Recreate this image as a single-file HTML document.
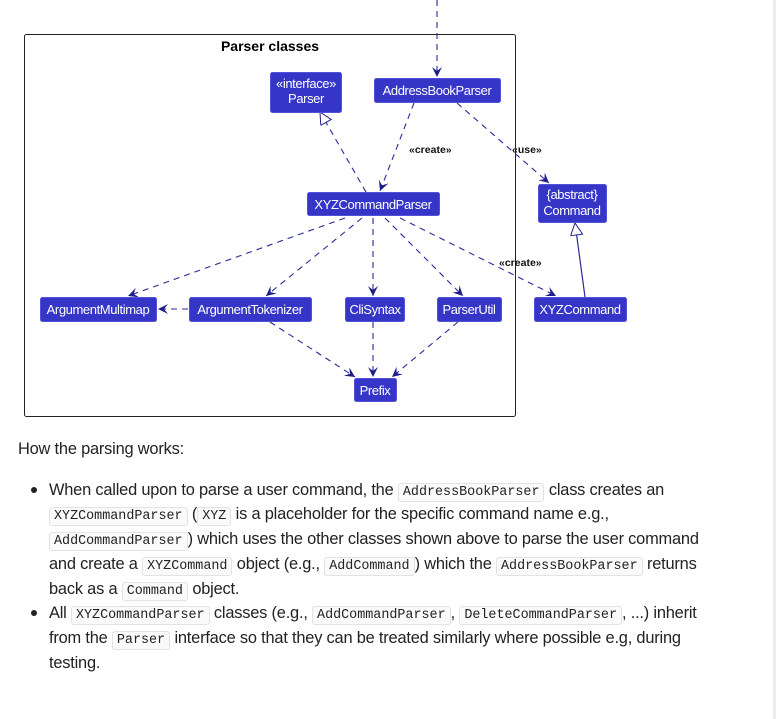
<!DOCTYPE html>
<html><head><style>
body{margin:0;width:776px;height:719px;background:#fff;overflow:hidden;position:relative;font-family:"Liberation Sans",sans-serif}
.rb{position:absolute;left:773px;top:0;width:3px;height:719px;background:#ececec}
.ln{position:absolute;white-space:nowrap;left:49px;height:25px;line-height:25px}
.bul{position:absolute;left:31px;width:6px;height:6px;border-radius:50%;background:#222}
code{font-family:"Liberation Mono",monospace;font-size:13.4px;background:#fafafa;border:1px solid #e3e3e3;border-radius:3px;padding:1px 4px;letter-spacing:0}
</style></head><body>
<div class="rb"></div>
<svg width="776" height="430" style="position:absolute;left:0;top:0" font-family="Liberation Sans, sans-serif">
<defs>
<marker id="a" markerWidth="12" markerHeight="12" refX="10" refY="5" orient="auto" markerUnits="userSpaceOnUse"><path d="M0,0 L10,5 L0,10 L4,5 Z" fill="#1e1e8a"/></marker>
<marker id="t" markerWidth="16" markerHeight="16" refX="13" refY="6" orient="auto" markerUnits="userSpaceOnUse"><path d="M1,0 L13,6 L1,12 Z" fill="#fff" stroke="#1e1e8a"/></marker>
</defs>
<rect x="24.5" y="34.5" width="491" height="382" rx="2" fill="none" stroke="#222" stroke-width="1"/>
<text x="270" y="51" font-size="14" font-weight="bold" text-anchor="middle" fill="#000">Parser classes</text>
<g stroke="#2a2a9a" stroke-width="1.1" fill="none" stroke-dasharray="6,5" marker-end="url(#a)">
<line x1="437" y1="0" x2="437" y2="77"/>
<line x1="414" y1="103" x2="380" y2="191"/>
<line x1="457" y1="103" x2="549" y2="183"/>
<line x1="345" y1="218" x2="128" y2="296"/>
<line x1="362" y1="218" x2="266" y2="296"/>
<line x1="373" y1="218" x2="373" y2="296"/>
<line x1="385" y1="218" x2="463" y2="296"/>
<line x1="400" y1="218" x2="556" y2="296"/>
<line x1="188" y1="309" x2="158" y2="309"/>
<line x1="270" y1="322" x2="355" y2="377"/>
<line x1="373" y1="322" x2="373" y2="377"/>
<line x1="458" y1="322" x2="392" y2="377"/>
</g>
<line x1="366" y1="192" x2="320" y2="112" stroke="#2a2a9a" stroke-width="1.1" stroke-dasharray="6,5" marker-end="url(#t)"/>
<line x1="585" y1="297" x2="575" y2="223" stroke="#2a2a9a" stroke-width="1.2" marker-end="url(#t)"/>
<g font-size="10.5" font-weight="bold" fill="#111">
<text x="409" y="153">«create»</text>
<text x="512" y="153">«use»</text>
<text x="499" y="266">«create»</text>
</g>
<g fill="#3535c8" stroke="#5252d8">
<rect x="270.5" y="72.5" width="71" height="40" rx="2"/>
<rect x="374.5" y="78.5" width="126" height="24" rx="2"/>
<rect x="307.5" y="192.5" width="132" height="23" rx="2"/>
<rect x="538.5" y="184.5" width="68" height="38" rx="2"/>
<rect x="40.5" y="297.5" width="116" height="24" rx="2"/>
<rect x="189.5" y="297.5" width="122" height="24" rx="2"/>
<rect x="345.5" y="297.5" width="59" height="24" rx="2"/>
<rect x="437.5" y="297.5" width="64" height="24" rx="2"/>
<rect x="534.5" y="297.5" width="92" height="24" rx="2"/>
<rect x="354.5" y="378.5" width="42" height="23" rx="2"/>
</g>
<g fill="#fff" font-size="13" text-anchor="middle" letter-spacing="-0.4">
<text x="306" y="88">«interface»</text>
<text x="306" y="103">Parser</text>
<text x="437" y="95">AddressBookParser</text>
<text x="373" y="209">XYZCommandParser</text>
<text x="572" y="199">{abstract}</text>
<text x="572" y="215">Command</text>
<text x="98" y="314">ArgumentMultimap</text>
<text x="250" y="314">ArgumentTokenizer</text>
<text x="375" y="314">CliSyntax</text>
<text x="469" y="314">ParserUtil</text>
<text x="580" y="314">XYZCommand</text>
<text x="375" y="395">Prefix</text>
</g>
</svg>
<div style="position:absolute;left:0;top:0;font-size:16.4px;color:#222;letter-spacing:-0.2px">
<div class="ln" style="left:18px;top:437px">How the parsing works:</div>
<div class="bul" style="top:487px"></div>
<div class="ln" style="top:478px">When called upon to parse a user command, the <code>AddressBookParser</code> class creates an</div>
<div class="ln" style="top:502px"><code>XYZCommandParser</code> (<code>XYZ</code> is a placeholder for the specific command name e.g.,</div>
<div class="ln" style="top:527px"><code>AddCommandParser</code>) which uses the other classes shown above to parse the user command</div>
<div class="ln" style="top:552px">and create a <code>XYZCommand</code> object (e.g., <code>AddCommand</code>) which the <code>AddressBookParser</code> returns</div>
<div class="ln" style="top:577px">back as a <code>Command</code> object.</div>
<div class="bul" style="top:610px"></div>
<div class="ln" style="top:601px">All <code>XYZCommandParser</code> classes (e.g., <code>AddCommandParser</code>, <code>DeleteCommandParser</code>, ...) inherit</div>
<div class="ln" style="top:626px">from the <code>Parser</code> interface so that they can be treated similarly where possible e.g, during</div>
<div class="ln" style="top:651px">testing.</div>
</div>
</body></html>
